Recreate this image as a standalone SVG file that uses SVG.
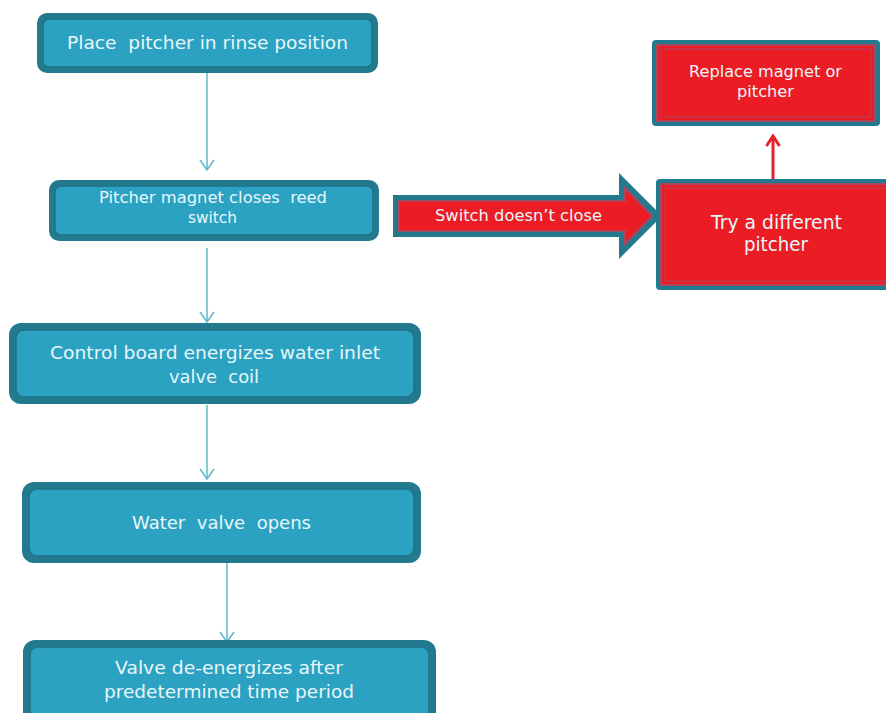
<svg xmlns="http://www.w3.org/2000/svg" width="886" height="713" viewBox="0 0 886 713">
<defs>
<style>
.out{fill:#237a8e}
.in{fill:#2ba2c2;stroke:#1f7389;stroke-width:1.5}
.rin{fill:#ec1c24;stroke:#a8485e;stroke-width:2}
.t{font-family:"DejaVu Sans","Open Sans",sans-serif;fill:#e8f6fa;text-anchor:middle;white-space:pre}
.con{stroke:#5fb7cc;stroke-width:1.5;fill:none}
</style>
<marker id="v" viewBox="0 0 12 16" refX="11" refY="8" markerWidth="12" markerHeight="16" markerUnits="userSpaceOnUse" orient="auto">
<path d="M1,1 L11,8 L1,15" fill="none" stroke="#5fb7cc" stroke-width="1.5"/>
</marker>
<marker id="rv" viewBox="0 0 14 16" refX="12" refY="8" markerWidth="14" markerHeight="16" markerUnits="userSpaceOnUse" orient="auto">
<path d="M2,1.5 L12,8 L2,14.5" fill="none" stroke="#e8202a" stroke-width="3"/>
</marker>
</defs>
<rect width="886" height="713" fill="#ffffff"/>
<g id="connectors">
<line class="con" x1="207" y1="72" x2="207" y2="170" marker-end="url(#v)"/>
<line class="con" x1="207" y1="248" x2="207" y2="322" marker-end="url(#v)"/>
<line class="con" x1="207" y1="405" x2="207" y2="479" marker-end="url(#v)"/>
<line class="con" x1="227" y1="563" x2="227" y2="642" marker-end="url(#v)"/>
<line x1="773" y1="179" x2="773" y2="136" stroke="#e8202a" stroke-width="3" marker-end="url(#rv)"/>
</g>
<g id="n1">
<rect class="out" x="37" y="13" width="341" height="60" rx="10"/>
<rect class="in" x="43" y="19" width="329" height="48" rx="6"/>
<text class="t" x="207.5" y="48.5" font-size="18" textLength="281" lengthAdjust="spacingAndGlyphs" xml:space="preserve">Place  pitcher in rinse position</text>
</g>
<g id="n2">
<rect class="out" x="49" y="180" width="330" height="61" rx="10"/>
<rect class="in" x="55" y="186" width="318" height="49" rx="6"/>
<text class="t" x="213" y="202.5" font-size="15.5" textLength="228" lengthAdjust="spacingAndGlyphs" xml:space="preserve">Pitcher magnet closes  reed</text>
<text class="t" x="212.5" y="222.5" font-size="15.5" textLength="49" lengthAdjust="spacingAndGlyphs">switch</text>
</g>
<g id="n3">
<rect class="out" x="9" y="323" width="412" height="81" rx="12"/>
<rect class="in" x="16" y="330" width="398" height="67" rx="8"/>
<text class="t" x="215" y="358.5" font-size="18" textLength="330" lengthAdjust="spacingAndGlyphs">Control board energizes water inlet</text>
<text class="t" x="214" y="382.5" font-size="18" textLength="90" lengthAdjust="spacingAndGlyphs" xml:space="preserve">valve  coil</text>
</g>
<g id="n4">
<rect class="out" x="22" y="482" width="399" height="81" rx="12"/>
<rect class="in" x="29" y="489" width="385" height="67" rx="8"/>
<text class="t" x="221.5" y="528.5" font-size="18" textLength="179" lengthAdjust="spacingAndGlyphs" xml:space="preserve">Water  valve  opens</text>
</g>
<g id="n5">
<rect class="out" x="23" y="640" width="413" height="85" rx="12"/>
<rect class="in" x="30" y="647" width="399" height="71" rx="8"/>
<text class="t" x="229" y="673.5" font-size="18" textLength="228" lengthAdjust="spacingAndGlyphs">Valve de-energizes after</text>
<text class="t" x="229" y="697.5" font-size="18" textLength="250" lengthAdjust="spacingAndGlyphs">predetermined time period</text>
</g>
<g id="bigarrow">
<path d="M393,195 L619,195 L619,173 L662,216 L619,259 L619,237 L393,237 Z" fill="#237a8e"/>
<path d="M399,201 L625,201 L625,188 L652,216 L625,244 L625,231 L399,231 Z" fill="#ec1c24" stroke="#a8485e" stroke-width="2"/>
<text class="t" x="518.5" y="220.5" font-size="15.5" textLength="167" lengthAdjust="spacingAndGlyphs">Switch doesn’t close</text>
</g>
<g id="n6">
<rect class="out" x="656" y="179" width="236" height="111" rx="4"/>
<rect class="rin" x="661" y="184" width="230" height="101"/>
<rect x="665" y="188" width="226" height="93" fill="none" stroke="#a8485e" stroke-width="1"/>
<text class="t" x="776.5" y="228.5" font-size="19" textLength="131" lengthAdjust="spacingAndGlyphs">Try a different</text>
<text class="t" x="776" y="250.5" font-size="19" textLength="64" lengthAdjust="spacingAndGlyphs">pitcher</text>
</g>
<g id="n7">
<rect class="out" x="652" y="40" width="228" height="86" rx="4"/>
<rect class="rin" x="657" y="45" width="218" height="76"/>
<rect x="661" y="49" width="210" height="68" fill="none" stroke="#a8485e" stroke-width="1"/>
<text class="t" x="765.5" y="76.5" font-size="15.5" textLength="153" lengthAdjust="spacingAndGlyphs">Replace magnet or</text>
<text class="t" x="765.5" y="96.5" font-size="15.5" textLength="57" lengthAdjust="spacingAndGlyphs">pitcher</text>
</g>
</svg>
